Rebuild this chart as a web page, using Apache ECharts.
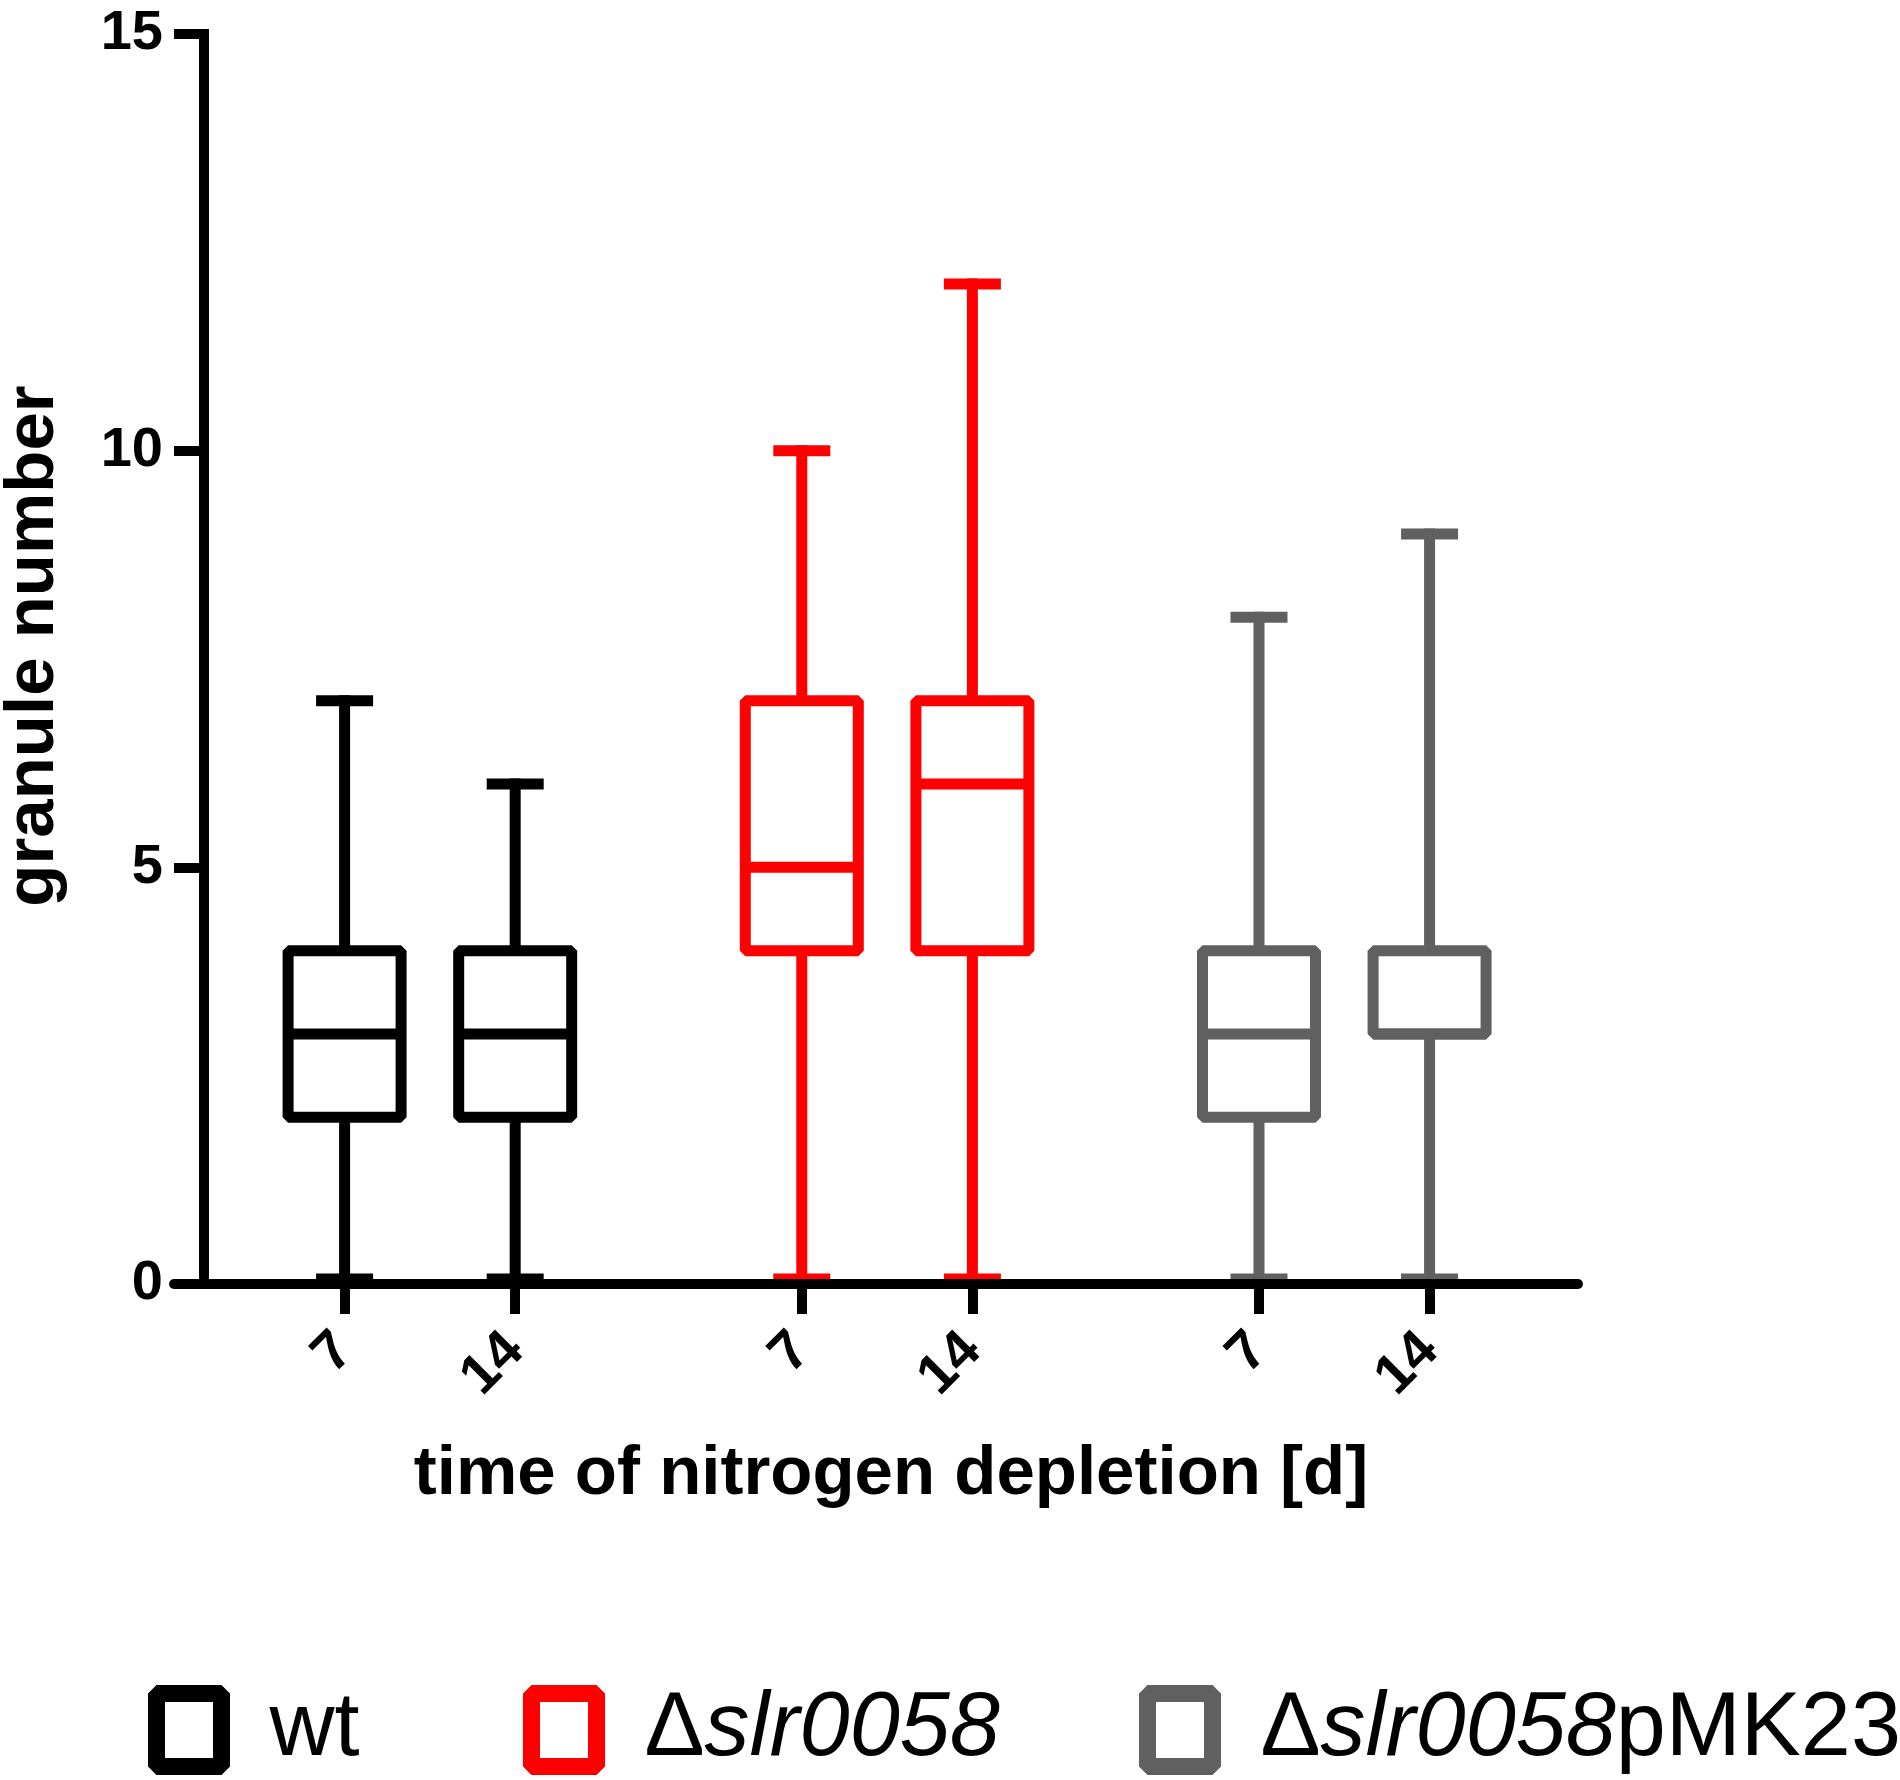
<!DOCTYPE html>
<html>
<head>
<meta charset="utf-8">
<script src="https://cdn.jsdelivr.net/npm/echarts@6/dist/echarts.min.js"></script>
<style>
html,body{margin:0;padding:0;background:#fff;}
#chart{width:1900px;height:1780px;}
</style>
</head>
<body>
<div id="chart"></div>
<script>
// ---- data ----
const groups = ['wt', 'Δslr0058', 'Δslr0058pMK23'];
const days = ['7', '14'];
// [min, Q1, median, Q3, max]
const wtStats = [[0, 2, 3, 4, 7], [0, 2, 3, 4, 6]];
const delStats = [[0, 4, 5, 7, 10], [0, 4, 6, 7, 12]];
const compStats = [[0, 2, 3, 4, 8], [0, 3, 3, 4, 9]];
const yTicks = [0, 5, 10, 15];
const colors = ['#000000', '#ff0000', '#606060'];

// ---- layout helpers (positions of boxes on a value x axis) ----
const GROUP_STEP = 2.68, DAY_STEP = 1;
const allStats = [wtStats, delStats, compStats];
const xPos = [];
const xLabel = [];
groups.forEach((g, gi) => days.forEach((d, di) => { xPos.push(gi * GROUP_STEP + di * DAY_STEP); xLabel.push(d); }));

const FONT = 'Liberation Sans, Arial, sans-serif';
const BOX_W = 113, CAP_W = 57, LW = 11;

function renderItem(params, api) {
  const x = api.value(0);
  const p = (v) => api.coord([x, v]);
  const px = p(api.value(1))[0];
  const yMin = p(api.value(1))[1];
  const yQ1 = p(api.value(2))[1];
  const yMed = p(api.value(3))[1];
  const yQ3 = p(api.value(4))[1];
  const yMax = p(api.value(5))[1];
  const color = api.visual('color');
  const ls = { stroke: color, lineWidth: LW, fill: null, lineCap: 'butt' };
  return {
    type: 'group',
    children: [
      { type: 'line', shape: { x1: px, y1: yQ3, x2: px, y2: yMax - LW / 2 }, style: ls },
      { type: 'line', shape: { x1: px, y1: yQ1, x2: px, y2: yMin }, style: ls },
      { type: 'line', shape: { x1: px - CAP_W / 2, y1: yMax, x2: px + CAP_W / 2, y2: yMax }, style: ls },
      { type: 'line', shape: { x1: px - CAP_W / 2, y1: yMin - 5, x2: px + CAP_W / 2, y2: yMin - 5 }, style: ls },
      { type: 'rect', shape: { x: px - BOX_W / 2, y: yQ3, width: BOX_W, height: yQ1 - yQ3 },
        style: { stroke: color, lineWidth: LW, fill: '#ffffff', lineJoin: 'bevel' } },
      { type: 'line', shape: { x1: px - BOX_W / 2, y1: yMed, x2: px + BOX_W / 2, y2: yMed }, style: ls }
    ]
  };
}

const series = groups.map((g, gi) => ({
  name: g,
  type: 'custom',
  renderItem: renderItem,
  z: 2,
  itemStyle: { color: colors[gi] },
  encode: { x: 0, y: [1, 2, 3, 4, 5] },
  data: allStats[gi].map((s, di) => [xPos[gi * days.length + di]].concat(s))
}));

const legendLefts = [143, 518, 1134];
const richLegend = {
  g: { width: 43 },
  n: { fontSize: 90, fontFamily: FONT, color: '#000', lineHeight: 90 },
  i: { fontSize: 90, fontFamily: FONT, color: '#000', fontStyle: 'italic', lineHeight: 90 }
};
function legendText(name) {
  if (name === 'wt') return '{g|}{n|wt}';
  if (name === 'Δslr0058') return '{g|}{n|Δ}{i|slr0058}';
  return '{g|}{n|Δ}{i|slr0058}{n|pMK23}';
}
const legends = groups.map((g, gi) => ({
  left: legendLefts[gi],
  top: 1680,
  orient: 'horizontal',
  itemWidth: 65,
  itemHeight: 73,
  selectedMode: false,
  data: [{ name: g, icon: 'rect', itemStyle: { color: '#ffffff', borderColor: colors[gi], borderWidth: 17, borderJoin: 'bevel' } }],
  formatter: legendText,
  textStyle: { fontSize: 90, fontFamily: FONT, color: '#000', rich: richLegend }
}));

const chart = echarts.init(document.getElementById('chart'), null, { renderer: 'canvas' });
chart.setOption({
  backgroundColor: '#ffffff',
  animation: false,
  grid: { left: 174, right: 322, top: 34, bottom: 496, containLabel: false, outerBoundsMode: 'none' },
  legend: legends,
  xAxis: {
    type: 'value',
    min: -1,
    max: 7.23,
    z: 3,
    splitLine: { show: false },
    axisLine: { show: true, onZero: false, lineStyle: { color: '#000', width: 10 } },
    axisTick: { show: true, customValues: xPos, length: 30, lineStyle: { color: '#000', width: 10 } },
    axisLabel: {
      show: true, customValues: xPos, rotate: 45, margin: 58,
      fontSize: 56, fontWeight: 'bold', fontFamily: FONT, color: '#000',
      formatter: function (v) {
        for (let k = 0; k < xPos.length; k++) if (Math.abs(xPos[k] - v) < 1e-6) return xLabel[k];
        return '';
      }
    },
    name: 'time of nitrogen depletion [d]',
    nameLocation: 'middle',
    nameGap: 156,
    nameTextStyle: { fontSize: 69, fontWeight: 'bold', fontFamily: FONT, color: '#000', padding: [0, 0, 0, 30] }
  },
  yAxis: {
    type: 'value',
    min: yTicks[0],
    max: yTicks[yTicks.length - 1],
    interval: yTicks[1] - yTicks[0],
    offset: -30,
    splitLine: { show: false },
    axisLine: { show: true, onZero: false, lineStyle: { color: '#000', width: 10, cap: 'square' } },
    axisTick: { show: true, length: 30, lineStyle: { color: '#000', width: 10 } },
    axisLabel: { margin: 41, fontSize: 56, fontWeight: 'bold', fontFamily: FONT, color: '#000' },
    name: 'granule number',
    nameLocation: 'middle',
    nameGap: 136,
    nameTextStyle: { fontSize: 69, fontWeight: 'bold', fontFamily: FONT, color: '#000', padding: [0, 0, 0, 26] }
  },
  series: series
});
</script>
</body>
</html>
